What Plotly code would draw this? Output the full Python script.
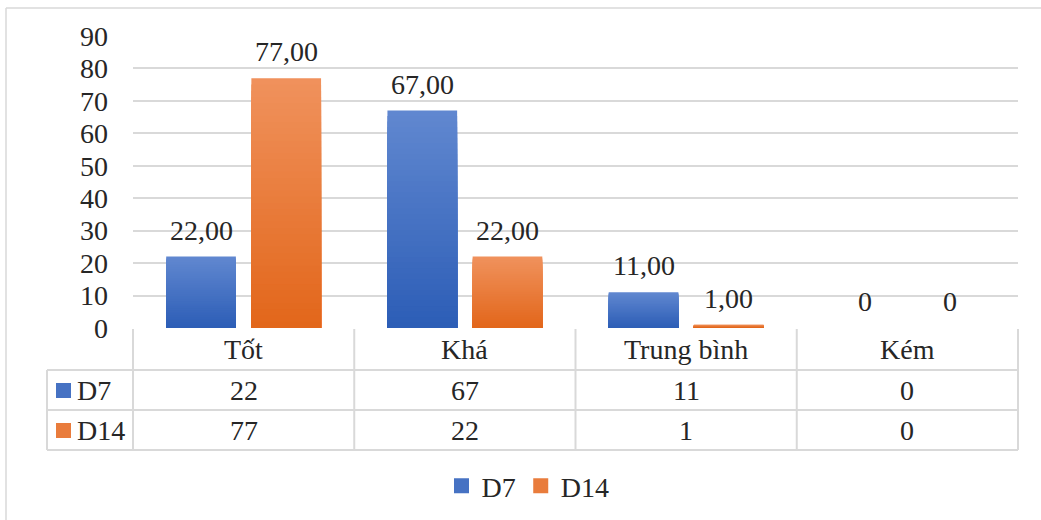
import plotly.graph_objects as go

# ---- data ----
categories = ["Tốt", "Khá", "Trung bình", "Kém"]
series_names = ["D7", "D14"]
d7_values = [22, 67, 11, 0]
d14_values = [77, 22, 1, 0]
y_ticks = [0, 10, 20, 30, 40, 50, 60, 70, 80, 90]

# ---- styling ----
FONT = "Liberation Serif, Times New Roman, serif"
TEXT = "#262626"
GRID = "#d9d9d9"
FS = 28
W, H = 1041, 520
L, R, T, B = 133, 1018, 36, 328   # plot area in pixels

# bottom / top colours of each bar gradient
grad = {
    "D7": ("#2c5db6", "#6188d0"),
    "D14": ("#e2661a", "#f0925d"),
}
bar_w = 0.315
offsets = {"D7": -0.35, "D14": 0.035}
N_LAYERS = 40


def px(x):
    return (x - L) / (R - L)


def py(y):
    return (B - y) / (B - T)


def hex2rgb(h):
    h = h.lstrip("#")
    return tuple(int(h[i:i + 2], 16) for i in (0, 2, 4))


def lerp(c0, c1, t):
    a, b = hex2rgb(c0), hex2rgb(c1)
    return "rgb(%d,%d,%d)" % tuple(round(a[i] + (b[i] - a[i]) * t) for i in range(3))


def fmt_label(v):
    return "0" if v == 0 else f"{v:.2f}".replace(".", ",")


xs = list(range(len(categories)))
data = {"D7": d7_values, "D14": d14_values}

fig = go.Figure()

# Each bar is a pile of overlaid bars from the axis up, tallest (lightest) first,
# so the shading runs from dark at the bottom to light at the top without seams.
for name in series_names:
    vals = data[name]
    lo, hi = grad[name]
    for k in range(N_LAYERS):
        f = (N_LAYERS - k) / N_LAYERS
        t = f - 0.5 / N_LAYERS
        fig.add_trace(go.Bar(
            x=xs,
            y=[v * f for v in vals],
            width=bar_w,
            offset=offsets[name],
            marker=dict(color=lerp(lo, hi, t), line=dict(width=0)),
            name=name,
            showlegend=False,
            hoverinfo="skip",
        ))

# legend entries with square swatches
for name in series_names:
    lo, hi = grad[name]
    fig.add_trace(go.Scatter(
        x=[None], y=[None], mode="markers", name=name,
        marker=dict(symbol="square", size=15, color=lerp(lo, hi, 0.5)),
        hoverinfo="skip",
    ))

annotations = []
shapes = []

# value labels above bars
for name in series_names:
    for i, v in enumerate(data[name]):
        annotations.append(dict(
            x=i + offsets[name] + bar_w / 2, y=v, xref="x", yref="y",
            text=fmt_label(v), showarrow=False, xanchor="center", yanchor="bottom", yshift=9,
            font=dict(family=FONT, size=FS, color=TEXT),
        ))

# data table under the plot
row_y = [329, 370, 410, 450]          # horizontal rule positions (px)
col_x = [L + (R - L) * j / len(categories) for j in range(len(categories) + 1)]
left_x = 47

line = dict(color=GRID, width=2)
for y in row_y[1:]:
    shapes.append(dict(type="line", xref="paper", yref="paper",
                       x0=px(left_x), x1=px(R), y0=py(y), y1=py(y), line=line))
for x in col_x:
    shapes.append(dict(type="line", xref="paper", yref="paper",
                       x0=px(x), x1=px(x), y0=py(row_y[0]), y1=py(row_y[-1]), line=line))
shapes.append(dict(type="line", xref="paper", yref="paper",
                   x0=px(left_x), x1=px(left_x), y0=py(row_y[1]), y1=py(row_y[-1]), line=line))

header_c = (row_y[0] + row_y[1]) / 2
for i, c in enumerate(categories):
    annotations.append(dict(x=i, y=py(header_c), xref="x", yref="paper", text=c,
                            xanchor="center", yanchor="middle", showarrow=False,
                            font=dict(family=FONT, size=FS, color=TEXT)))

for r, name in enumerate(series_names):
    yc = (row_y[r + 1] + row_y[r + 2]) / 2
    lo, hi = grad[name]
    shapes.append(dict(type="rect", xref="paper", yref="paper",
                       x0=px(56), x1=px(71), y0=py(yc + 8), y1=py(yc - 7),
                       fillcolor=lerp(lo, hi, 0.5), line=dict(width=0)))
    annotations.append(dict(x=px(75), y=py(yc), xref="paper", yref="paper", text=name,
                            xanchor="left", yanchor="middle", showarrow=False,
                            font=dict(family=FONT, size=FS, color=TEXT)))
    for i, v in enumerate(data[name]):
        annotations.append(dict(x=i, y=py(yc), xref="x", yref="paper", text=str(v),
                                xanchor="center", yanchor="middle", showarrow=False,
                                font=dict(family=FONT, size=FS, color=TEXT)))

# chart frame (top and left edges)
frame = dict(color=GRID, width=1.5)
shapes.append(dict(type="line", xref="paper", yref="paper",
                   x0=px(6), x1=px(W), y0=py(8), y1=py(8), line=frame))
shapes.append(dict(type="line", xref="paper", yref="paper",
                   x0=px(6), x1=px(6), y0=py(8), y1=py(H), line=frame))

fig.update_layout(
    width=W, height=H,
    margin=dict(l=L, r=W - R, t=T, b=H - B, autoexpand=False),
    paper_bgcolor="white", plot_bgcolor="white",
    barmode="overlay",
    font=dict(family=FONT, size=FS, color=TEXT),
    xaxis=dict(range=[-0.5, len(categories) - 0.5], showticklabels=False,
               showgrid=False, zeroline=False, showline=False, fixedrange=True),
    yaxis=dict(range=[0, 90], tickvals=y_ticks, showgrid=True, gridcolor=GRID,
               gridwidth=1.5, zeroline=False, showline=False, ticks="",
               ticklabelstandoff=24, tickfont=dict(family=FONT, size=FS, color=TEXT)),
    legend=dict(orientation="h", x=px(528), xanchor="center", y=py(486), yanchor="middle",
                font=dict(family=FONT, size=FS, color=TEXT), itemclick=False,
                itemwidth=30, tracegroupgap=0,
                bgcolor="rgba(0,0,0,0)"),
    annotations=annotations,
    shapes=shapes,
    hovermode=False,
)

fig.write_html("out.html")
